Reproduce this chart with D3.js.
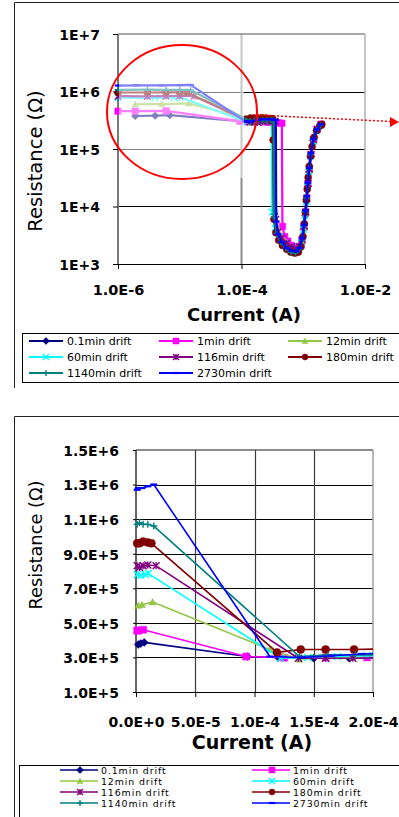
<!DOCTYPE html>
<html><head><meta charset="utf-8">
<script src="https://cdn.jsdelivr.net/npm/d3@7"></script>
<style>html,body{margin:0;padding:0;background:#fff;overflow:hidden}</style>
</head><body><svg id="c" width="399" height="817" xmlns="http://www.w3.org/2000/svg"></svg>
<script>
// ---------- DATA ----------
const seriesNames = ["0.1min drift","1min drift","12min drift","60min drift","116min drift","180min drift","1140min drift","2730min drift"];
const seriesColors = ["#000080","#FF00FF","#94C647","#00FFFF","#800080","#800000","#008080","#0000FF"];
const seriesMarkers = ["diamond","square","triangle","x","star","circle","plus","dash"];

const I_01 = [1.9e-6,4.0e-6,6.9e-6,9.4e-5,1.2e-4,1.5e-4,1.8e-4,2.1e-4,2.5e-4,2.9e-4,3.3e-4,3.4e-4,3.7e-4,4.3e-4,5.2e-4,6.3e-4,7.4e-4,8.4e-4,9.4e-4,1.02e-3,1.08e-3,1.13e-3,1.18e-3,1.24e-3,1.32e-3,1.45e-3,1.65e-3,1.9e-3];
const R_01 = [3.75e5,3.8e5,3.87e5,3.05e5,3.0e5,2.95e5,2.95e5,2.95e5,3.0e5,3.05e5,3.1e5,7.5e3,3.9e3,2.8e3,2.2e3,1.9e3,1.75e3,1.75e3,2.3e3,4.0e3,7.0e3,1.2e4,2.2e4,4.0e4,7.5e4,1.4e5,2.1e5,2.6e5];

const I_1 = [1.0e-6,1.9e-6,6.0e-6,9.3e-5,1.25e-4,1.6e-4,1.95e-4,2.4e-4,2.9e-4,3.5e-4,4.0e-4,4.5e-4,4.6e-4,5.0e-4,5.6e-4,6.4e-4,7.4e-4,8.5e-4,9.5e-4,1.03e-3,1.09e-3,1.14e-3,1.19e-3,1.25e-3,1.33e-3,1.47e-3,1.68e-3,1.95e-3];
const R_1 = [4.55e5,4.55e5,4.6e5,3.05e5,2.98e5,3.0e5,3.0e5,2.95e5,2.9e5,2.9e5,2.85e5,2.8e5,4.5e3,3.0e3,2.5e3,2.1e3,1.9e3,2.0e3,2.6e3,4.5e3,8.0e3,1.4e4,2.5e4,4.5e4,8.0e4,1.45e5,2.2e5,2.7e5];

const I_12 = [1.9e-6,5.1e-6,1.4e-5,1.13e-4,1.38e-4,1.6e-4,1.83e-4,2.2e-4,2.7e-4,3.1e-4,3.4e-4,3.5e-4,3.8e-4,4.4e-4,5.3e-4,6.4e-4,7.5e-4,8.5e-4,9.5e-4,1.03e-3,1.09e-3,1.14e-3,1.19e-3,1.25e-3,1.33e-3,1.46e-3,1.66e-3,1.9e-3];
const R_12 = [6.0e5,6.05e5,6.2e5,3.46e5,2.88e5,3.05e5,3.0e5,3.0e5,3.05e5,3.05e5,3.05e5,9.0e3,4.5e3,3.1e3,2.4e3,2.0e3,1.8e3,1.8e3,2.4e3,4.2e3,7.5e3,1.3e4,2.3e4,4.2e4,7.8e4,1.4e5,2.1e5,2.6e5];

const I_60 = [1.0e-6,4.0e-6,8.0e-6,1.05e-5,1.22e-4,1.45e-4,1.7e-4,1.95e-4,2.3e-4,2.7e-4,3.1e-4,3.15e-4,3.5e-4,4.1e-4,5.0e-4,6.1e-4,7.2e-4,8.3e-4,9.3e-4,1.01e-3,1.07e-3,1.12e-3,1.17e-3,1.23e-3,1.31e-3,1.44e-3,1.64e-3,1.88e-3];
const R_60 = [7.8e5,7.75e5,7.8e5,7.85e5,2.95e5,3.0e5,3.05e5,3.1e5,3.1e5,3.1e5,3.1e5,8.0e3,4.2e3,3.0e3,2.3e3,1.9e3,1.75e3,1.8e3,2.3e3,4.0e3,7.0e3,1.2e4,2.2e4,4.0e4,7.5e4,1.35e5,2.05e5,2.55e5];

const I_116 = [1.0e-6,3.0e-6,6.0e-6,1.0e-5,1.7e-5,1.37e-4,1.6e-4,1.83e-4,2.2e-4,2.7e-4,3.1e-4,3.5e-4,3.6e-4,3.9e-4,4.5e-4,5.4e-4,6.5e-4,7.6e-4,8.6e-4,9.6e-4,1.04e-3,1.1e-3,1.15e-3,1.2e-3,1.26e-3,1.34e-3,1.47e-3,1.67e-3,1.92e-3];
const R_116 = [8.3e5,8.2e5,8.3e5,8.35e5,8.3e5,2.95e5,2.95e5,2.95e5,3.0e5,3.05e5,3.05e5,3.05e5,6.0e3,3.6e3,2.8e3,2.3e3,2.0e3,1.85e3,2.0e3,2.7e3,4.6e3,8.0e3,1.4e4,2.5e4,4.5e4,8.0e4,1.45e5,2.2e5,2.65e5];

const I_180 = [1.0e-6,3.0e-6,6.0e-6,1.0e-5,1.3e-5,1.19e-4,1.39e-4,1.6e-4,1.84e-4,2.15e-4,2.5e-4,2.9e-4,3.2e-4,3.25e-4,3.35e-4,3.6e-4,4.0e-4,4.6e-4,5.4e-4,6.3e-4,7.3e-4,8.3e-4,9.2e-4,9.9e-4,1.04e-3,1.08e-3,1.12e-3,1.16e-3,1.2e-3,1.25e-3,1.31e-3,1.39e-3,1.5e-3,1.65e-3,1.85e-3,2.0e-3];
const R_180 = [9.6e5,9.6e5,9.7e5,9.65e5,9.6e5,3.29e5,3.46e5,3.46e5,3.46e5,3.5e5,3.45e5,3.4e5,3.35e5,1.44e5,6.0e3,3.5e3,2.6e3,2.1e3,1.8e3,1.6e3,1.55e3,1.6e3,2.0e3,3.0e3,5.0e3,8.0e3,1.3e4,2.0e4,3.2e4,5.0e4,7.5e4,1.1e5,1.6e5,2.1e5,2.5e5,2.7e5];

const I_1140 = [1.0e-6,3.0e-6,6.0e-6,1.0e-5,1.5e-5,1.38e-4,1.62e-4,1.85e-4,2.2e-4,2.6e-4,3.0e-4,3.3e-4,3.35e-4,3.7e-4,4.3e-4,5.2e-4,6.3e-4,7.5e-4,8.6e-4,9.5e-4,1.02e-3,1.08e-3,1.13e-3,1.18e-3,1.24e-3,1.32e-3,1.45e-3,1.65e-3,1.9e-3];
const R_1140 = [1.07e6,1.08e6,1.07e6,1.07e6,1.06e6,3.05e5,3.15e5,3.15e5,3.15e5,3.15e5,3.15e5,3.15e5,6.5e3,3.4e3,2.4e3,1.9e3,1.6e3,1.55e3,1.8e3,2.6e3,4.5e3,8.0e3,1.4e4,2.5e4,4.5e4,8.0e4,1.45e5,2.15e5,2.6e5];

const I_2730 = [1.0e-6,2.0e-6,5.0e-6,1.0e-5,1.5e-5,1.13e-4,1.4e-4,1.65e-4,1.9e-4,2.3e-4,2.8e-4,3.2e-4,3.6e-4,3.65e-4,3.9e-4,4.5e-4,5.4e-4,6.5e-4,7.7e-4,8.7e-4,9.6e-4,1.03e-3,1.09e-3,1.14e-3,1.19e-3,1.25e-3,1.33e-3,1.46e-3,1.66e-3,1.92e-3];
const R_2730 = [1.27e6,1.28e6,1.28e6,1.29e6,1.30e6,3.05e5,3.0e5,3.1e5,3.2e5,3.3e5,3.3e5,3.25e5,3.2e5,5.5e3,3.3e3,2.4e3,1.9e3,1.7e3,1.65e3,1.9e3,2.8e3,4.8e3,8.5e3,1.5e4,2.6e4,4.7e4,8.5e4,1.5e5,2.2e5,2.7e5];

const topXTicks = [1e-6,1e-4,1e-2];
const topXLabels = ["1.0E-6","1.0E-4","1.0E-2"];
const topYTicks = [1e3,1e4,1e5,1e6,1e7];
const topYLabels = ["1E+3","1E+4","1E+5","1E+6","1E+7"];
const botXTicks = [0,5e-5,1e-4,1.5e-4,2e-4];
const botXLabels = ["0.0E+0","5.0E-5","1.0E-4","1.5E-4","2.0E-4"];
const botYTicks = [1e5,3e5,5e5,7e5,9e5,1.1e6,1.3e6,1.5e6];
const botYLabels = ["1.0E+5","3.0E+5","5.0E+5","7.0E+5","9.0E+5","1.1E+6","1.3E+6","1.5E+6"];

const allI = [I_01,I_1,I_12,I_60,I_116,I_180,I_1140,I_2730];
const allR = [R_01,R_1,R_12,R_60,R_116,R_180,R_1140,R_2730];
const series = seriesNames.map((n,k)=>({name:n,color:seriesColors[k],marker:seriesMarkers[k],
  pts: allI[k].map((v,j)=>({I:v,R:allR[k][j]}))}));

// ---------- helpers ----------
const svg = d3.select("#c");
const BOLD = "'DejaVu Sans', Verdana, sans-serif";

function markerPath(type, s){
  const h = s/2;
  switch(type){
    case "diamond": return `M0,${-h-0.5}L${h+0.5},0L0,${h+0.5}L${-h-0.5},0Z`;
    case "square": return `M${-h},${-h}H${h}V${h}H${-h}Z`;
    case "triangle": return `M0,${-h}L${h},${h*0.8}L${-h},${h*0.8}Z`;
    case "x": return `M${-h},${-h}L${h},${h}M${h},${-h}L${-h},${h}`;
    case "star": return `M${-h},${-h}L${h},${h}M${h},${-h}L${-h},${h}M0,${-h}L0,${h}`;
    case "circle": return d3.symbol(d3.symbolCircle, Math.PI*h*h)();
    case "plus": return `M${-h},0L${h},0M0,${-h}L0,${h}`;
    case "dash": return `M${-h},0L${h},0`;
  }
}
const filled = t => ["diamond","square","triangle","circle"].includes(t);

function drawMarker(g, type, color, s, x, y){
  const p = g.append("path").attr("d", markerPath(type,s)).attr("transform",`translate(${x},${y})`);
  if(filled(type)) p.attr("fill",color).attr("stroke",color).attr("stroke-width",0.5);
  else p.attr("fill","none").attr("stroke",color).attr("stroke-width", type==="dash"?2.2:1.4);
}

// ================= TOP CHART =================
const tx = d3.scaleLog().domain([1e-6,1e-2]).range([118,365]);
const ty = d3.scaleLog().domain([1e3,1e7]).range([264,34]);

svg.append("path").attr("d","M14.5,388V2.5H400").attr("fill","none").attr("stroke","#222").attr("stroke-width",1);

const gT = svg.append("g");
gT.selectAll(".hg").data([1e4,1e5,1e6]).join("line")
  .attr("x1",118).attr("x2",365).attr("y1",d=>Math.round(ty(d))+0.5).attr("y2",d=>Math.round(ty(d))+0.5)
  .attr("stroke","#000").attr("stroke-width",1);
gT.append("line").attr("x1",118).attr("x2",365).attr("y1",ty(1e7)).attr("y2",ty(1e7)).attr("stroke","#8c8c8c").attr("stroke-width",1.5);
gT.append("line").attr("x1",365).attr("x2",365).attr("y1",34).attr("y2",264).attr("stroke","#b0b0b0").attr("stroke-width",1.5);
gT.append("line").attr("x1",tx(1e-4)).attr("x2",tx(1e-4)).attr("y1",34).attr("y2",264).attr("stroke","#8c8c8c").attr("stroke-width",2);
gT.append("line").attr("x1",tx(1e-6)).attr("x2",tx(1e-6)).attr("y1",34).attr("y2",264).attr("stroke","#7a7a7a").attr("stroke-width",2);
gT.append("line").attr("x1",118).attr("x2",365).attr("y1",264.5).attr("y2",264.5).attr("stroke","#000").attr("stroke-width",1);

const tyAxis = d3.axisLeft(ty).tickValues(topYTicks).tickFormat((d,i)=>topYLabels[i]).tickSize(5).tickPadding(13).tickSizeOuter(0);
const gTy = svg.append("g").attr("transform","translate(118,0)").call(tyAxis);
const txAxis = d3.axisBottom(tx).tickValues(topXTicks).tickFormat((d,i)=>topXLabels[i]).tickSize(5).tickPadding(16).tickSizeOuter(0);
const gTx = svg.append("g").attr("transform","translate(0,264)").call(txAxis);
gTy.select(".domain").remove(); gTx.select(".domain").remove();
gTy.selectAll("text").attr("font-family",BOLD).attr("font-weight","bold").attr("font-size",14).attr("fill","#000").attr("dy","0.38em");
gTx.selectAll("text").attr("font-family",BOLD).attr("font-weight","bold").attr("font-size",14.5).attr("fill","#000");
svg.selectAll(".tick line").attr("stroke","#000");

svg.append("clipPath").attr("id","clipT").append("rect").attr("x",112).attr("y",28).attr("width",260).attr("height",242);
const gTD = svg.append("g").attr("clip-path","url(#clipT)");
const lineT = d3.line().x(d=>tx(d.I)).y(d=>ty(d.R));
series.forEach(s=>{
  gTD.append("path").attr("d",lineT(s.pts)).attr("fill","none").attr("stroke",s.color).attr("stroke-width",2.2).attr("stroke-linejoin","round");
  const gm = gTD.append("g");
  s.pts.forEach(p=>drawMarker(gm, s.marker, s.color, s.marker==="circle"?7:6.5, tx(p.I), ty(p.R)));
});

// faded region (left of 1e-4)
svg.append("rect").attr("x",119).attr("y",35).attr("width",tx(1.1e-4)-119).attr("height",178-35).attr("fill","#fff").attr("opacity",0.5);

// red circle + dotted arrow
svg.append("ellipse").attr("cx",182).attr("cy",112).attr("rx",75).attr("ry",67).attr("fill","none").attr("stroke","#FF0000").attr("stroke-width",2);
svg.append("line").attr("x1",257).attr("y1",115).attr("x2",391).attr("y2",121.5).attr("stroke","#FF0000").attr("stroke-width",1.5).attr("stroke-dasharray","2,2");
svg.append("path").attr("d","M390,117L399,122L390,127Z").attr("fill","#FF0000");

svg.append("text").attr("x",244).attr("y",321).attr("text-anchor","middle").attr("font-family",BOLD).attr("font-weight","bold").attr("font-size",18).text("Current (A)");
svg.append("text").attr("transform","translate(42,161) rotate(-90)").attr("text-anchor","middle").attr("font-family",BOLD).attr("font-size",19.5).text("Resistance (Ω)");

svg.append("rect").attr("x",22.5).attr("y",333.5).attr("width",400).attr("height",49).attr("fill","none").attr("stroke","#000").attr("stroke-width",1);
const legTcols = [29,159,288];
const legTrows = [341,357,373];
series.forEach((s,k)=>{
  const cx = legTcols[k%3], cy = legTrows[Math.floor(k/3)];
  svg.append("line").attr("x1",cx).attr("x2",cx+34).attr("y1",cy).attr("y2",cy).attr("stroke",s.color).attr("stroke-width",2);
  drawMarker(svg, s.marker, s.color, 6, cx+17, cy);
  svg.append("text").attr("x",cx+38).attr("y",cy+4).attr("font-family",BOLD).attr("font-size",11).attr("fill","#000").text(s.name);
});

// ================= BOTTOM CHART =================
const bx = d3.scaleLinear().domain([0,2e-4]).range([136,373]);
const by = d3.scaleLinear().domain([1e5,1.5e6]).range([692,450]);

svg.append("path").attr("d","M14.5,817V416.5H400").attr("fill","none").attr("stroke","#222").attr("stroke-width",1);

const gB = svg.append("g");
gB.selectAll(".hgb").data(botYTicks.slice(0,7)).join("line")
  .attr("x1",136).attr("x2",373).attr("y1",d=>Math.round(by(d))+0.5).attr("y2",d=>Math.round(by(d))+0.5)
  .attr("stroke","#000").attr("stroke-width",1);
gB.append("line").attr("x1",136).attr("x2",373).attr("y1",by(1.5e6)).attr("y2",by(1.5e6)).attr("stroke","#666").attr("stroke-width",1.5);
gB.selectAll(".vgb").data([5e-5,1e-4,1.5e-4]).join("line")
  .attr("x1",d=>Math.round(bx(d))+0.5).attr("x2",d=>Math.round(bx(d))+0.5).attr("y1",450).attr("y2",692)
  .attr("stroke","#3a3a3a").attr("stroke-width",1.2);
gB.append("line").attr("x1",373).attr("x2",373).attr("y1",450).attr("y2",692).attr("stroke","#a0a0a0").attr("stroke-width",1.5);
gB.append("line").attr("x1",136).attr("x2",136).attr("y1",450).attr("y2",692).attr("stroke","#333").attr("stroke-width",1.5);

const byAxis = d3.axisLeft(by).tickValues(botYTicks).tickFormat((d,i)=>botYLabels[i]).tickSize(3).tickPadding(14).tickSizeOuter(0);
const gBy = svg.append("g").attr("transform","translate(136,0)").call(byAxis);
const bxAxis = d3.axisBottom(bx).tickValues(botXTicks).tickFormat((d,i)=>botXLabels[i]).tickSize(5).tickPadding(20).tickSizeOuter(0);
const gBx = svg.append("g").attr("transform","translate(0,692)").call(bxAxis);
gBy.select(".domain").remove(); gBx.select(".domain").remove();
gBy.selectAll("text").attr("font-family",BOLD).attr("font-weight","bold").attr("font-size",14).attr("fill","#000").attr("dy","0.38em");
gBx.selectAll("text").attr("font-family",BOLD).attr("font-weight","bold").attr("font-size",14).attr("fill","#000");
svg.selectAll(".tick line").attr("stroke","#000");

svg.append("clipPath").attr("id","clipB").append("rect").attr("x",130).attr("y",444).attr("width",243).attr("height",254);
const gBD = svg.append("g").attr("clip-path","url(#clipB)");
const lineB = d3.line().x(d=>bx(d.I)).y(d=>by(d.R));
series.forEach(s=>{
  gBD.append("path").attr("d",lineB(s.pts.slice(0, s.pts.findIndex(p=>p.I>2.2e-4)+1))).attr("fill","none").attr("stroke",s.color).attr("stroke-width",1.6).attr("stroke-linejoin","round");
  const gm = gBD.append("g");
  s.pts.filter(p=>p.I<=2.05e-4).forEach(p=>drawMarker(gm, s.marker, s.color, s.marker==="circle"?8:7, bx(p.I), by(p.R)));
});

svg.append("text").attr("x",252).attr("y",749).attr("text-anchor","middle").attr("font-family",BOLD).attr("font-weight","bold").attr("font-size",19).text("Current (A)");
svg.append("text").attr("transform","translate(42,545) rotate(-90)").attr("text-anchor","middle").attr("font-family",BOLD).attr("font-size",17.8).text("Resistance (Ω)");

svg.append("rect").attr("x",19.5).attr("y",765.5).attr("width",400).attr("height",80).attr("fill","none").attr("stroke","#000").attr("stroke-width",1);
const legBcols = [60,252];
const legBrows = [770,781,792,803];
series.forEach((s,k)=>{
  const cx = legBcols[k%2], cy = legBrows[Math.floor(k/2)];
  svg.append("line").attr("x1",cx).attr("x2",cx+38).attr("y1",cy).attr("y2",cy).attr("stroke",s.color).attr("stroke-width",1.6);
  drawMarker(svg, s.marker, s.color, 6, cx+20, cy);
  svg.append("text").attr("x",cx+41).attr("y",cy+3.5).attr("font-family",BOLD).attr("font-size",9.4).attr("letter-spacing",0.9).attr("fill","#000").text(s.name);
});
</script></body></html>
